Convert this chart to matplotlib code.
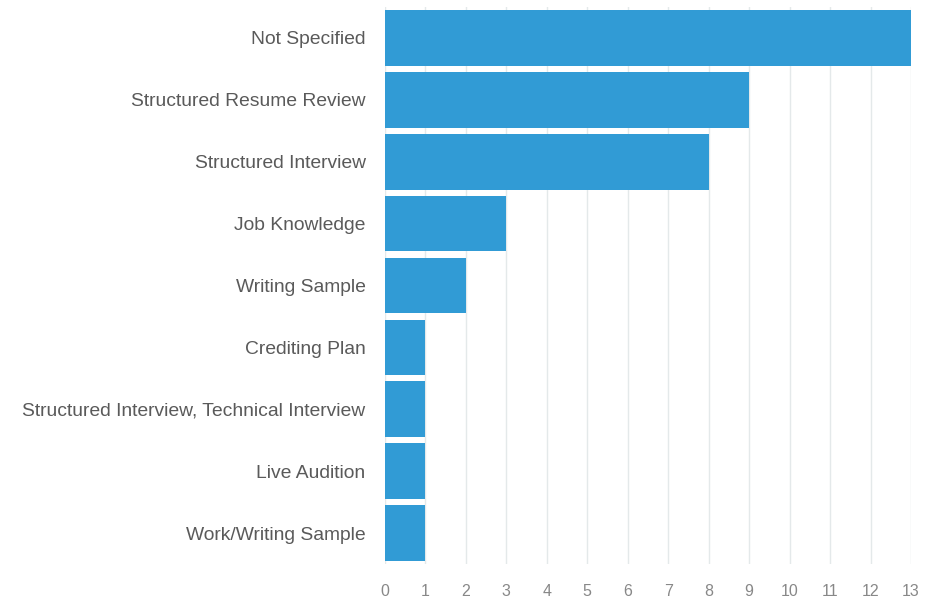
import matplotlib

matplotlib.use("Agg")
import matplotlib.pyplot as plt

categories = [
    "Not Specified",
    "Structured Resume Review",
    "Structured Interview",
    "Job Knowledge",
    "Writing Sample",
    "Crediting Plan",
    "Structured Interview, Technical Interview",
    "Live Audition",
    "Work/Writing Sample",
]
counts = [13, 9, 8, 3, 2, 1, 1, 1, 1]
x_ticks = list(range(0, 14))

plt.rcParams["font.family"] = ["Liberation Sans", "DejaVu Sans"]

fig = plt.figure(figsize=(9.48, 6.03), dpi=100)
ax = fig.add_axes([385 / 948, 1 - 564 / 603, 526 / 948, 557 / 603])

positions = list(range(len(categories)))
ax.barh(positions, counts, height=0.9, color="#319bd5", zorder=2)

ax.set_ylim(len(categories) - 0.5, -0.5)
ax.set_xlim(0, 13)
ax.set_xticks(x_ticks)
ax.set_yticks(positions)
ax.set_yticklabels(categories)

ax.grid(axis="x", color="#e4e9ea", linewidth=1, zorder=0)
ax.grid(axis="y", visible=False)
for spine in ax.spines.values():
    spine.set_visible(False)

ax.tick_params(axis="y", length=0, pad=14, labelsize=13.9, labelcolor="#5a5a5a")
ax.tick_params(axis="x", length=0, pad=14.5, labelsize=11.5, labelcolor="#888888")

fig.savefig("out.png", dpi=100)
plt.close(fig)
